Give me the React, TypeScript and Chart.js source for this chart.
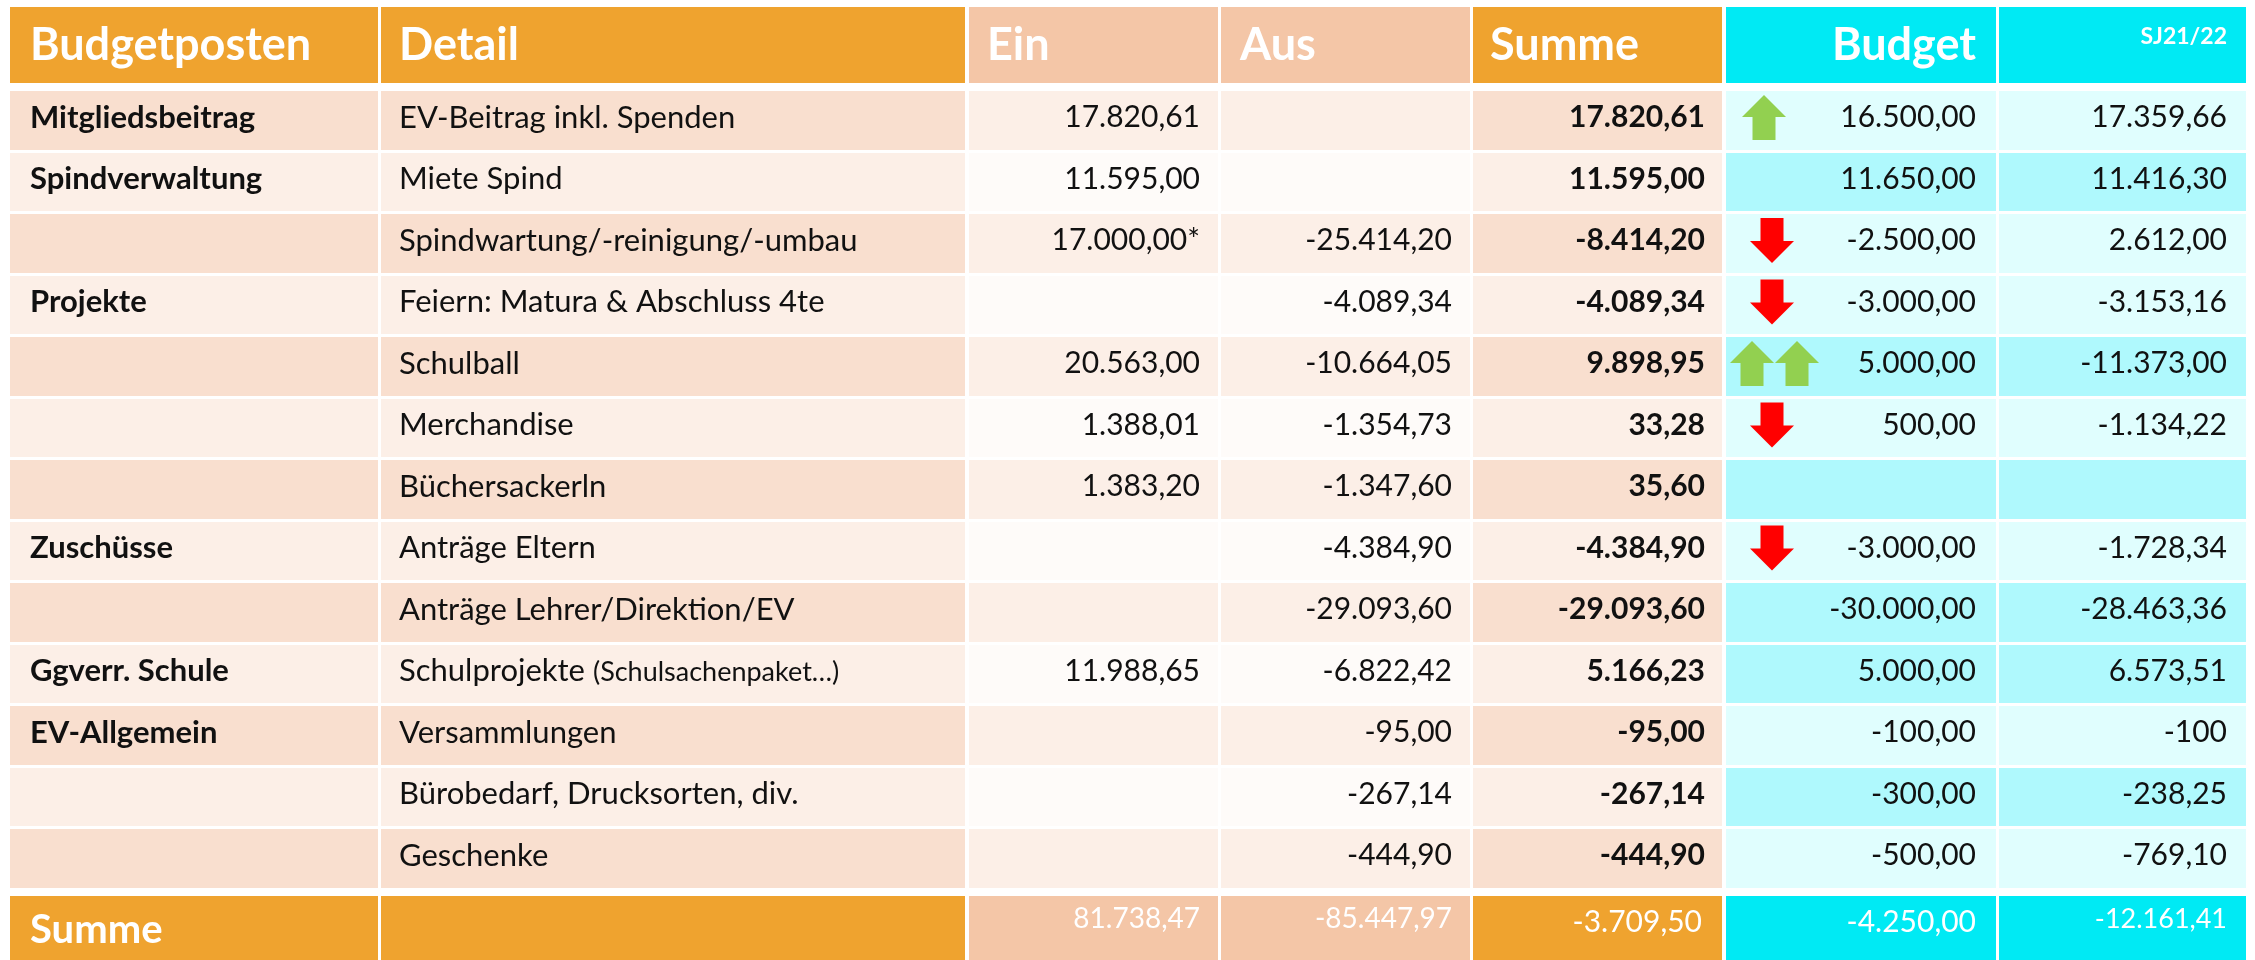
import { useEffect, useRef } from "react";
import { Chart, registerables } from "chart.js";

Chart.register(...registerables);

// ---------- data ----------
const headers = ["Budgetposten", "Detail", "Ein", "Aus", "Summe", "Budget", "SJ21/22"];
const categories = [
  "Mitgliedsbeitrag", "Spindverwaltung", "", "Projekte", "", "", "",
  "Zuschüsse", "", "Ggverr. Schule", "EV-Allgemein", "", "",
];
const details = [
  "EV-Beitrag inkl. Spenden", "Miete Spind", "Spindwartung/-reinigung/-umbau",
  "Feiern: Matura & Abschluss 4te", "Schulball", "Merchandise", "Büchersackerln",
  "Anträge Eltern", "Anträge Lehrer/Direktion/EV", "Schulprojekte", "Versammlungen",
  "Bürobedarf, Drucksorten, div.", "Geschenke",
];
const detailNotes = ["", "", "", "", "", "", "", "", "", "(Schulsachenpaket…)", "", "", ""];
const einValues: (number | null)[] = [17820.61, 11595.0, 17000.0, null, 20563.0, 1388.01, 1383.2, null, null, 11988.65, null, null, null];
const einMarks = ["", "", "*", "", "", "", "", "", "", "", "", "", ""];
const ausValues: (number | null)[] = [null, null, -25414.2, -4089.34, -10664.05, -1354.73, -1347.6, -4384.9, -29093.6, -6822.42, -95.0, -267.14, -444.9];
const sumValues: (number | null)[] = [17820.61, 11595.0, -8414.2, -4089.34, 9898.95, 33.28, 35.6, -4384.9, -29093.6, 5166.23, -95.0, -267.14, -444.9];
const budgetValues: (number | null)[] = [16500, 11650, -2500, -3000, 5000, 500, null, -3000, -30000, 5000, -100, -300, -500];
const priorValues: (number | null)[] = [17359.66, 11416.3, 2612.0, -3153.16, -11373.0, -1134.22, null, -1728.34, -28463.36, 6573.51, -100, -238.25, -769.1];
const priorDecimals = [2, 2, 2, 2, 2, 2, 2, 2, 2, 2, 0, 2, 2];
const budgetTrend = ["up", "", "down", "down", "up2", "down", "", "down", "", "", "", "", ""];
const budgetHighlight = [false, true, false, false, true, false, true, false, true, true, false, true, false];
const totalLabel = "Summe";
const totals = [81738.47, -85447.97, -3709.5, -4250.0, -12161.41];

// ---------- styles ----------
const COL_WIDTHS = [368, 584, 249, 249, 249, 270, 247];
const COL_GAP = 3.33;
const HEADER_H = 76;
const BLOCK_GAP = 8;
const ROW_H = 58.5;
const ROW_GAP = 3;
const SUM_H = 64.5;
const FONT = 'Lato, "Open Sans", sans-serif';

const ORANGE = "#EFA32F";
const PEACH_HEAD = "#F4C6A7";
const CYAN = "#00EAF4";
const MAIN_DARK = "#F9DFCF";
const MAIN_LIGHT = "#FCEFE7";
const IO_DARK = "#FCEFE7";
const IO_LIGHT = "#FEFBF9";
const CYAN_LIGHT = "#E0FEFE";
const CYAN_MID = "#AFF9FD";
const TEXT = "#111111";
const RED = "#FF0000";
const GREEN = "#92D050";

const HEAD_SIZE = 45;
const CAT_SIZE = 31;
const DETAIL_SIZE = 31;
const NOTE_SIZE = 27;
const NUM_SIZE = 30;

const colKinds = ["main", "main", "io", "io", "main", "cyan", "cyan"];
const colStart: number[] = [];
{
  let acc = 0;
  COL_WIDTHS.forEach((w) => {
    colStart.push(acc);
    acc += w + COL_GAP;
  });
}
const X_MAX = colStart[6] + COL_WIDTHS[6];
const ROW_PITCH = ROW_H + ROW_GAP;
const BODY_TOP = HEADER_H + BLOCK_GAP;
const SUM_TOP = BODY_TOP + details.length * ROW_PITCH - ROW_GAP + BLOCK_GAP;
const Y_MAX = SUM_TOP + SUM_H;

function fmt(v: number | null, d = 2): string {
  if (v === null || v === undefined) return "";
  const s = Math.abs(v).toFixed(d);
  const [i, dec] = s.split(".");
  const intS = i.replace(/\B(?=(\d{3})+(?!\d))/g, ".");
  return (v < 0 ? "-" : "") + intS + (dec ? "," + dec : "");
}

const tablePlugin = {
  id: "budgetTable",
  beforeDatasetsDraw(chart: any) {
    const { ctx } = chart;
    const xs = chart.scales.x;
    const ys = chart.scales.y;
    const L = (c: number) => Math.round(xs.getPixelForValue(colStart[c]));
    const R = (c: number) => Math.round(xs.getPixelForValue(colStart[c] + COL_WIDTHS[c]));
    const Y = (v: number) => Math.round(ys.getPixelForValue(v));

    ctx.save();
    ctx.fillStyle = "#ffffff";
    ctx.fillRect(0, 0, chart.width, chart.height);

    const font = (w: string, s: number) => `${w} ${s}px ${FONT}`;
    const text = (str: string, x: number, cy: number, size: number, weight: string, color: string, align: CanvasTextAlign, dy = 0) => {
      if (!str) return;
      ctx.font = font(weight, size);
      ctx.fillStyle = color;
      ctx.textAlign = align;
      ctx.textBaseline = "alphabetic";
      ctx.fillText(str, x, cy + size * 0.36 + dy);
    };

    // header
    const hTop = Y(0), hBot = Y(HEADER_H);
    const hCy = (hTop + hBot) / 2;
    for (let c = 0; c < 7; c++) {
      ctx.fillStyle = colKinds[c] === "io" ? PEACH_HEAD : colKinds[c] === "cyan" ? CYAN : ORANGE;
      ctx.fillRect(L(c), hTop, R(c) - L(c), hBot - hTop);
    }
    text(headers[0], L(0) + 20, hCy, HEAD_SIZE, "bold", "#fff", "left", -1);
    text(headers[1], L(1) + 18, hCy, HEAD_SIZE, "bold", "#fff", "left", -1);
    text(headers[2], L(2) + 18, hCy, HEAD_SIZE, "bold", "#fff", "left", -1);
    text(headers[3], L(3) + 19, hCy, HEAD_SIZE, "bold", "#fff", "left", -1);
    text(headers[4], L(4) + 17, hCy, HEAD_SIZE, "bold", "#fff", "left", -1);
    text(headers[5], R(5) - 20, hCy, HEAD_SIZE, "bold", "#fff", "right", -1);
    text(headers[6], R(6) - 19, hTop + 29, 23, "bold", "#fff", "right");

    // body
    for (let i = 0; i < details.length; i++) {
      const top = Y(BODY_TOP + i * ROW_PITCH);
      const bot = Y(BODY_TOP + i * ROW_PITCH + ROW_H);
      const cy = (top + bot) / 2 - 4;
      const dark = i % 2 === 0;
      for (let c = 0; c < 7; c++) {
        const k = colKinds[c];
        let col: string;
        if (k === "main") col = dark ? MAIN_DARK : MAIN_LIGHT;
        else if (k === "io") col = dark ? IO_DARK : IO_LIGHT;
        else col = budgetHighlight[i] ? CYAN_MID : CYAN_LIGHT;
        ctx.fillStyle = col;
        ctx.fillRect(L(c), top, R(c) - L(c), bot - top);
      }
      text(categories[i], L(0) + 20, cy, CAT_SIZE, "bold", TEXT, "left");
      text(details[i], L(1) + 18, cy, DETAIL_SIZE, "normal", TEXT, "left");
      if (detailNotes[i]) {
        ctx.font = font("normal", DETAIL_SIZE);
        const w = ctx.measureText(details[i] + " ").width;
        text(detailNotes[i], L(1) + 18 + w, cy, NOTE_SIZE, "normal", TEXT, "left", 1.5);
      }
      text(einValues[i] === null ? "" : fmt(einValues[i]) + einMarks[i], R(2) - 18, cy, NUM_SIZE, "normal", TEXT, "right");
      text(fmt(ausValues[i]), R(3) - 18, cy, NUM_SIZE, "normal", TEXT, "right");
      text(fmt(sumValues[i]), R(4) - 17, cy, NUM_SIZE, "bold", TEXT, "right");
      text(fmt(budgetValues[i]), R(5) - 20, cy, NUM_SIZE, "normal", TEXT, "right");
      text(fmt(priorValues[i], priorDecimals[i]), R(6) - 19, cy, NUM_SIZE, "normal", TEXT, "right");

      // trend arrows
      const t = budgetTrend[i];
      if (t) {
        const acy = (top + bot) / 2 - 3;
        const draw = (cx: number, up: boolean) => {
          const W = 44, H = 45, sw = 23, hh = 22;
          const t0 = acy - H / 2, b0 = acy + H / 2;
          ctx.beginPath();
          if (up) {
            ctx.moveTo(cx, t0);
            ctx.lineTo(cx + W / 2, t0 + hh);
            ctx.lineTo(cx + sw / 2, t0 + hh);
            ctx.lineTo(cx + sw / 2, b0);
            ctx.lineTo(cx - sw / 2, b0);
            ctx.lineTo(cx - sw / 2, t0 + hh);
            ctx.lineTo(cx - W / 2, t0 + hh);
          } else {
            ctx.moveTo(cx - sw / 2, t0);
            ctx.lineTo(cx + sw / 2, t0);
            ctx.lineTo(cx + sw / 2, b0 - hh);
            ctx.lineTo(cx + W / 2, b0 - hh);
            ctx.lineTo(cx, b0);
            ctx.lineTo(cx - W / 2, b0 - hh);
            ctx.lineTo(cx - sw / 2, b0 - hh);
          }
          ctx.closePath();
          ctx.fillStyle = up ? GREEN : RED;
          ctx.fill();
        };
        if (t === "up2") {
          draw(L(5) + 26, true);
          draw(L(5) + 71, true);
        } else if (t === "up") {
          draw(L(5) + 38, true);
        } else {
          draw(L(5) + 46, false);
        }
      }
    }

    // totals row
    const sTop = Y(SUM_TOP), sBot = Y(SUM_TOP + SUM_H);
    const sCy = (sTop + sBot) / 2;
    for (let c = 0; c < 7; c++) {
      ctx.fillStyle = colKinds[c] === "io" ? PEACH_HEAD : colKinds[c] === "cyan" ? CYAN : ORANGE;
      ctx.fillRect(L(c), sTop, R(c) - L(c), sBot - sTop);
    }
    text(totalLabel, L(0) + 20, sCy, 40, "bold", "#fff", "left", 1);
    text(fmt(totals[0]), R(2) - 18, sCy - 10, 28, "normal", "#fff", "right");
    text(fmt(totals[1]), R(3) - 18, sCy - 10, 28, "normal", "#fff", "right");
    text(fmt(totals[2]), R(4) - 20, sCy - 7, 30, "normal", "#fff", "right");
    text(fmt(totals[3]), R(5) - 20, sCy - 7, 30, "normal", "#fff", "right");
    text(fmt(totals[4]), R(6) - 19, sCy - 10, 27, "normal", "#fff", "right");

    ctx.restore();
  },
};

export default function App() {
  const canvasRef = useRef<HTMLCanvasElement | null>(null);

  useEffect(() => {
    const canvas = canvasRef.current;
    if (!canvas) return;
    const chart = new Chart(canvas, {
      type: "scatter",
      data: { datasets: [{ data: [] }] },
      options: {
        animation: false,
        responsive: true,
        maintainAspectRatio: false,
        devicePixelRatio: 1,
        events: [],
        layout: { padding: { left: 10, right: 9, top: 7, bottom: 0 } },
        scales: {
          x: { type: "linear", display: false, min: 0, max: X_MAX },
          y: { type: "linear", display: false, reverse: true, min: 0, max: Y_MAX },
        },
        plugins: { legend: { display: false }, tooltip: { enabled: false } },
      },
      plugins: [tablePlugin],
    } as any);
    let alive = true;
    (document as any).fonts?.ready?.then(() => {
      if (alive) chart.draw();
    });
    return () => {
      alive = false;
      chart.destroy();
    };
  }, []);

  return (
    <div style={{ position: "fixed", left: 0, top: 0, width: 2255, height: 960, background: "#fff" }}>
      <canvas ref={canvasRef} />
    </div>
  );
}
